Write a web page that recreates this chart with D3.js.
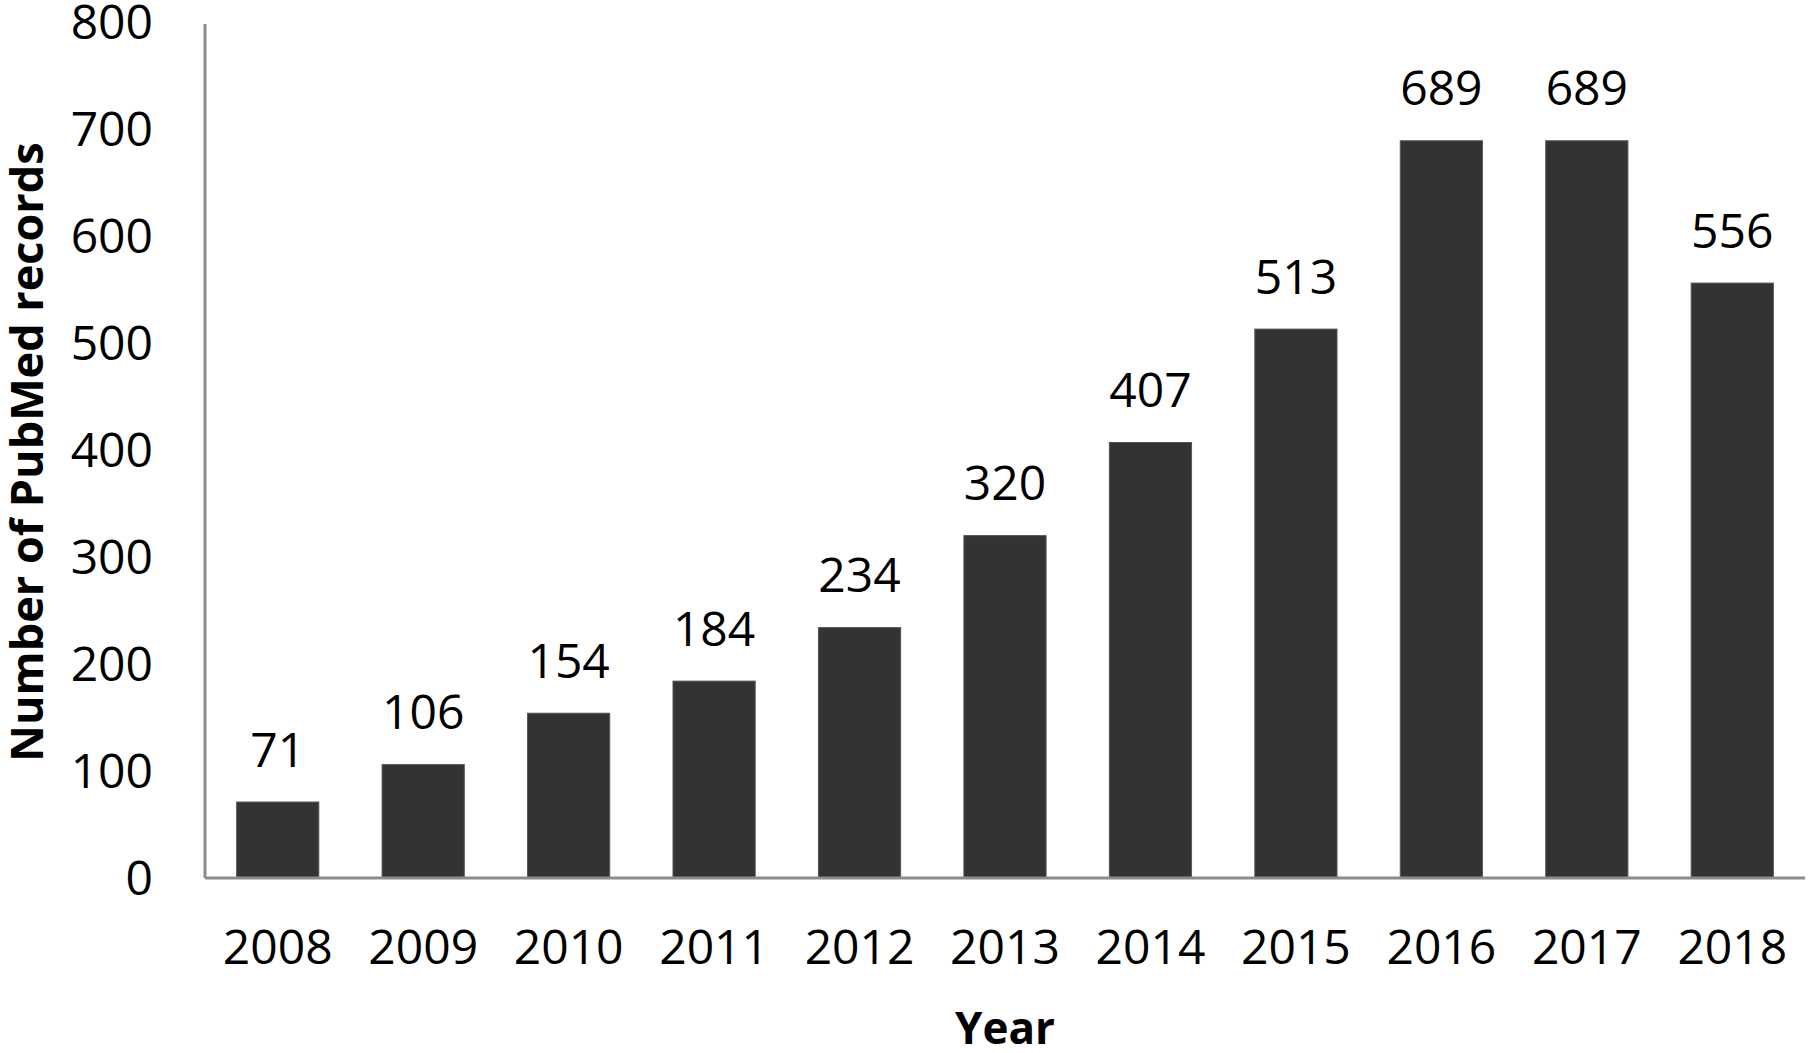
<!DOCTYPE html>
<html>
<head>
<meta charset="utf-8">
<script src="https://cdn.jsdelivr.net/npm/d3@7"></script>
<style>
  body { margin: 0; background: #fff; }
  svg text { font-family: "Open Sans", sans-serif; fill: #000; }
</style>
</head>
<body>
<svg id="chart" width="1810" height="1053"></svg>
<script>
var years = ["2008","2009","2010","2011","2012","2013","2014","2015","2016","2017","2018"];
var records = [71, 106, 154, 184, 234, 320, 407, 513, 689, 689, 556];
var yTicks = [0, 100, 200, 300, 400, 500, 600, 700, 800];

var svg = d3.select("#chart");
// plot edges (note: "top" is reserved on window, so use plot* names)
var plotLeft = 205, plotRight = 1805, plotTop = 22, plotBottom = 878;

var x = d3.scaleBand().domain(years).range([plotLeft, plotRight]).padding(0);
var y = d3.scaleLinear().domain([0, 800]).range([plotBottom, plotTop]);
var barW = x.bandwidth() * 0.565;

// bars
svg.append("g").selectAll("rect")
    .data(years)
    .enter().append("rect")
    .attr("x", function(d) { return x(d) + (x.bandwidth() - barW) / 2; })
    .attr("y", function(d, i) { return y(records[i]); })
    .attr("width", barW)
    .attr("height", function(d, i) { return y(0) - y(records[i]); })
    .attr("fill", "#333333")
    .attr("stroke", "#555")
    .attr("stroke-width", 1);

// value labels
svg.append("g").selectAll("text")
    .data(years)
    .enter().append("text")
    .attr("x", function(d) { return x(d) + x.bandwidth() / 2; })
    .attr("y", function(d, i) { return y(records[i]) - 54; })
    .attr("text-anchor", "middle")
    .attr("dominant-baseline", "central")
    .style("font-size", "48px")
    .text(function(d, i) { return records[i]; });

// y axis
var yAxis = svg.append("g")
    .attr("transform", `translate(${plotLeft},0)`)
    .call(d3.axisLeft(y).tickValues(yTicks).tickSize(0).tickPadding(52));
yAxis.select(".domain").attr("stroke", "#8c8c8c").attr("stroke-width", 3)
    .attr("d", `M0,${plotTop + 2}V${plotBottom}`);
yAxis.selectAll("text").style("font-size", "48px").attr("dy", "0.35em");

// x axis
var xAxis = svg.append("g")
    .attr("transform", `translate(0,${plotBottom})`)
    .call(d3.axisBottom(x).tickSize(0));
xAxis.select(".domain").attr("stroke", "#8c8c8c").attr("stroke-width", 3)
    .attr("d", `M${plotLeft},0H${plotRight}`);
xAxis.selectAll("text").style("font-size", "48px").attr("dy", "0.35em").attr("y", 69);

// axis titles
svg.append("text")
    .attr("transform", `translate(25,${(plotTop + plotBottom) / 2 + 2}) rotate(-90)`)
    .attr("text-anchor", "middle")
    .attr("dominant-baseline", "central")
    .style("font-size", "45px")
    .style("font-weight", "bold")
    .text("Number of PubMed records");

svg.append("text")
    .attr("x", (plotLeft + plotRight) / 2)
    .attr("y", 1027)
    .attr("text-anchor", "middle")
    .attr("dominant-baseline", "central")
    .style("font-size", "44px")
    .style("font-weight", "bold")
    .text("Year");
</script>
</body>
</html>
